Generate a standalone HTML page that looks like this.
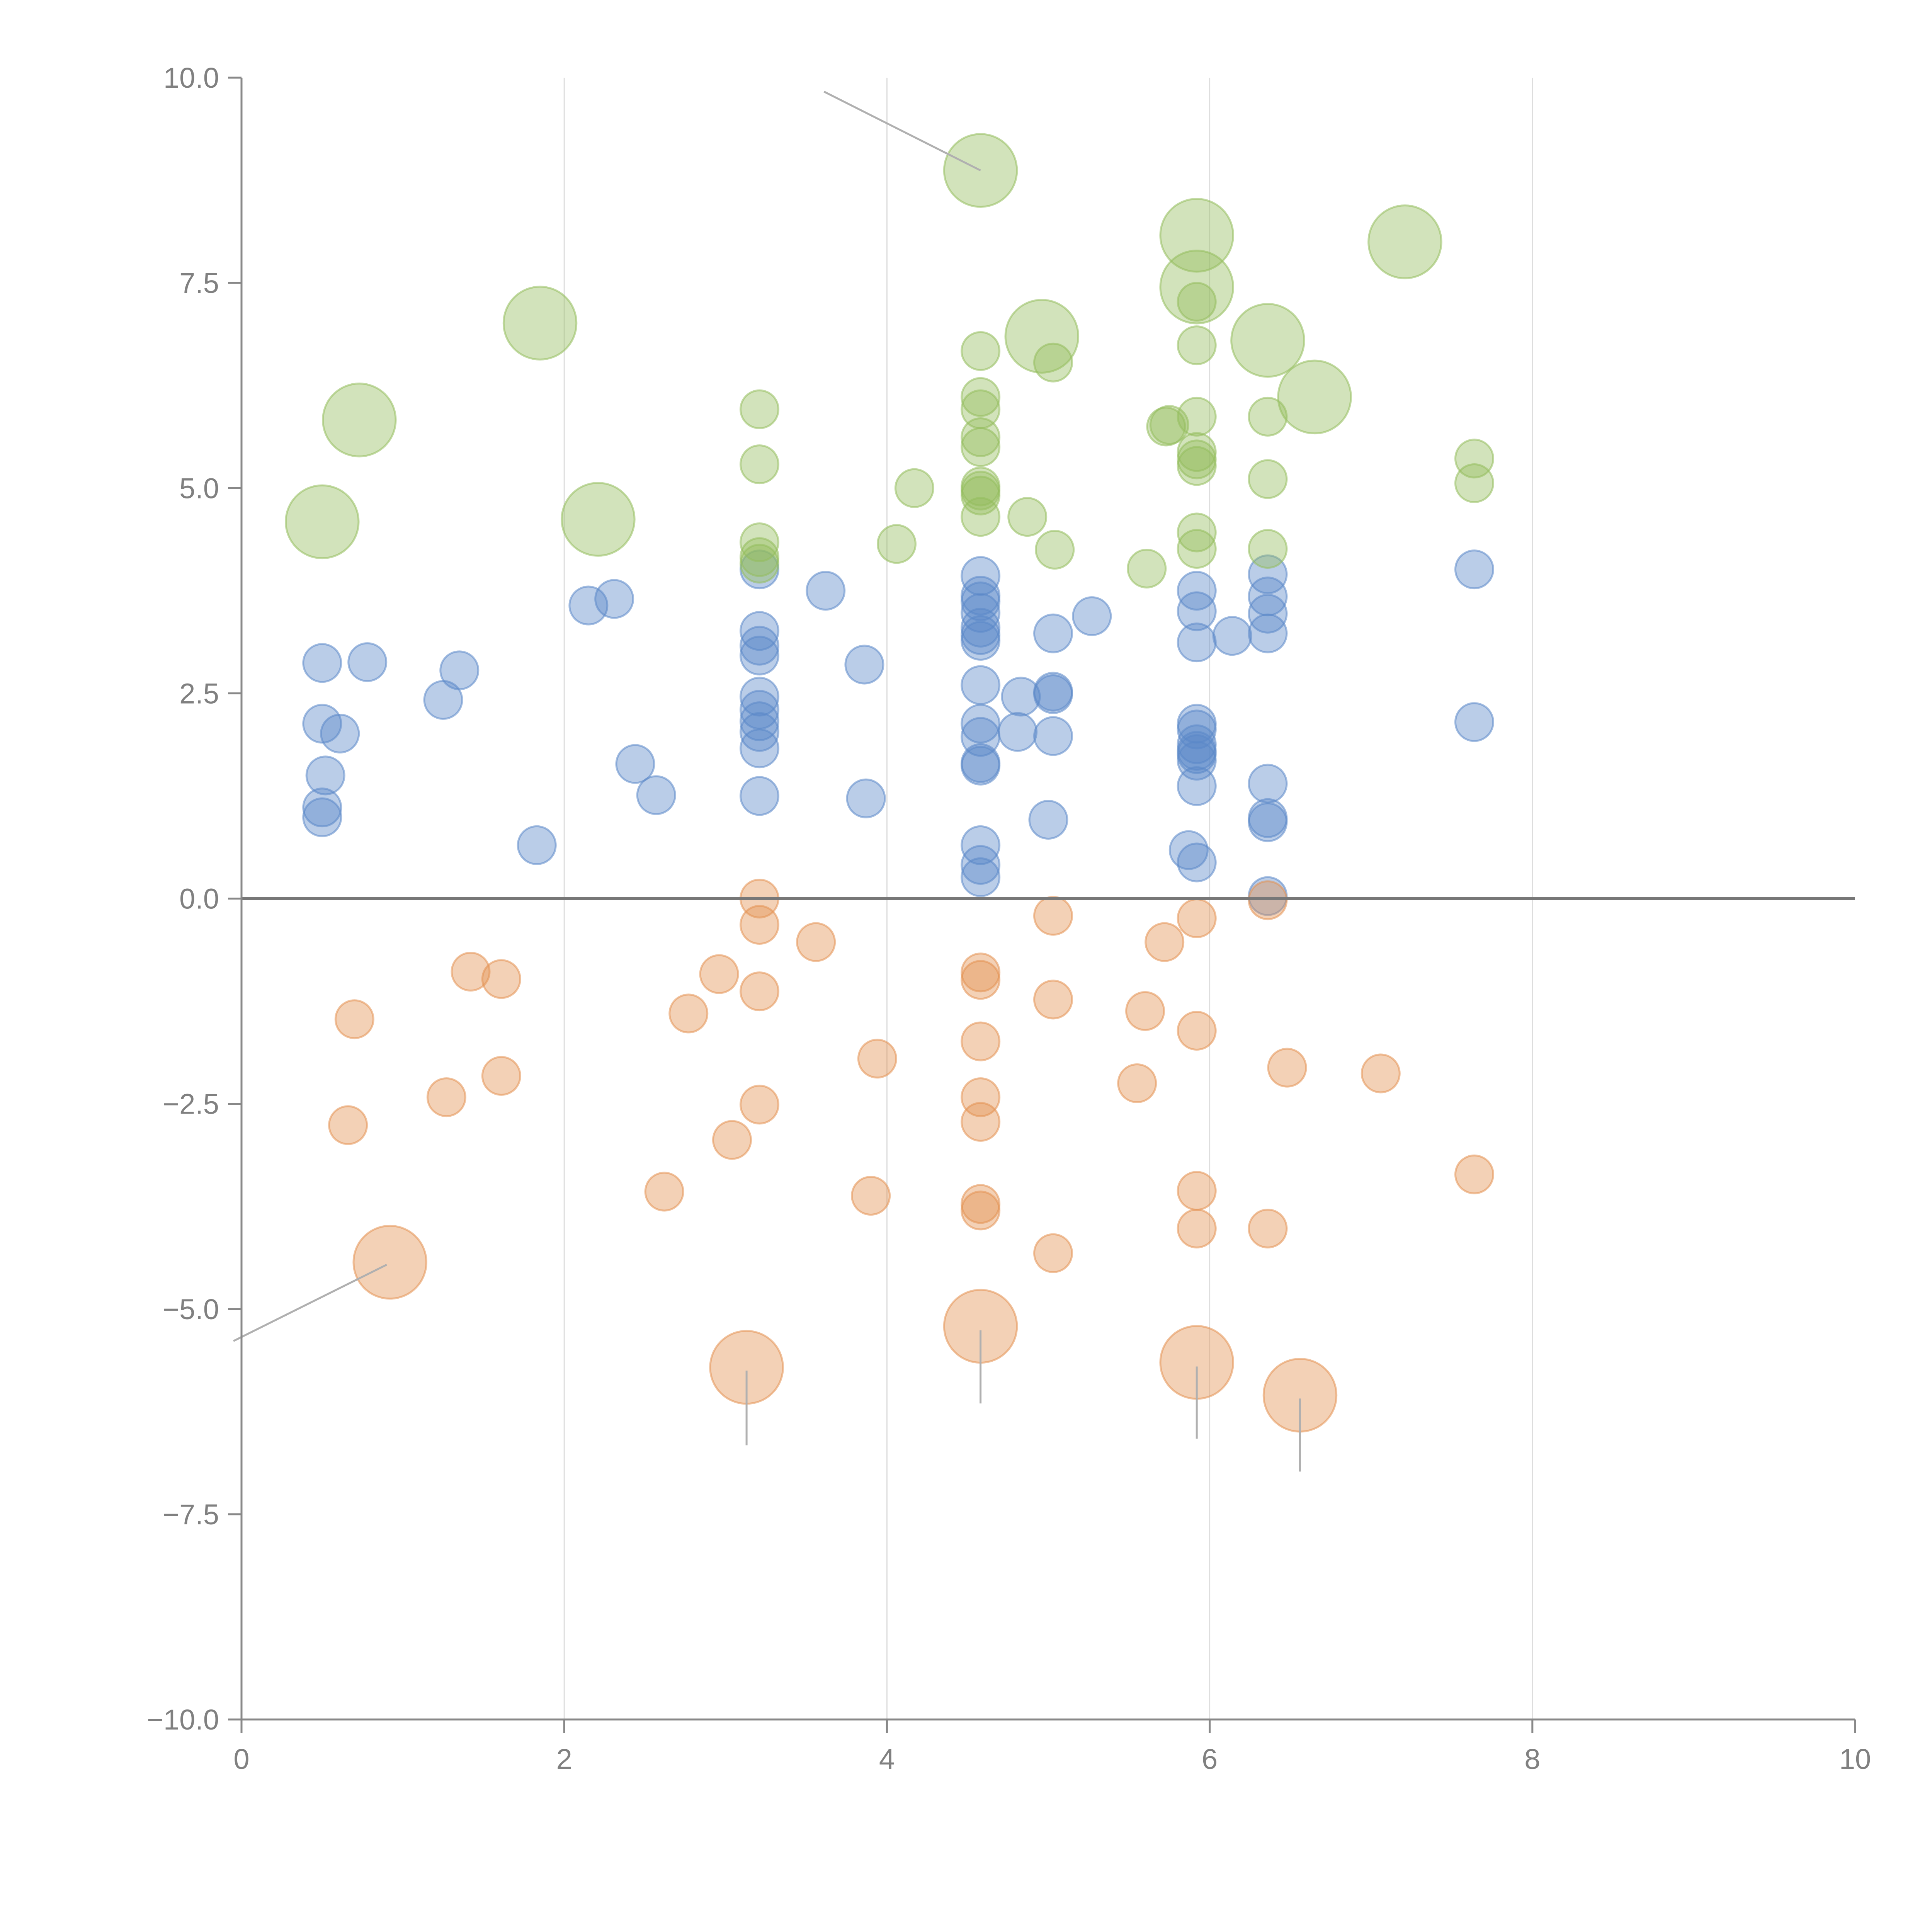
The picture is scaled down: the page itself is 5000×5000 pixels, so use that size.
<!DOCTYPE html>
<html><head><meta charset="utf-8"><style>
html,body{margin:0;padding:0;background:#fff;}
svg{display:block;font-family:"Liberation Sans",Arial,sans-serif;}
</style></head><body>
<svg id="chart" width="5000" height="5000" viewBox="0 0 5000 5000" xmlns="http://www.w3.org/2000/svg">
<rect width="5000" height="5000" fill="#fff"/>
<g id="grid"></g>
<g id="marks"></g>
<g id="axes"></g>
</svg>
<script>
const blueX=[0.50,0.50,0.61,0.78,0.52,0.50,0.50,1.35,1.25,1.83,2.15,2.31,2.44,2.57,3.21,3.21,3.21,3.21,3.21,3.21,3.21,3.21,3.21,3.21,3.62,3.86,3.87,4.58,4.58,4.58,4.58,4.58,4.58,4.58,4.58,4.58,4.58,4.58,4.58,4.58,4.58,4.58,4.81,4.83,5.00,5.03,5.03,5.03,5.03,5.27,5.87,5.92,5.92,5.92,5.92,5.92,5.92,5.92,5.92,5.92,5.92,5.92,6.14,6.36,6.36,6.36,6.36,6.36,6.36,6.36,6.36,7.64,7.64];
const blueY=[2.87,2.13,2.01,2.88,1.50,1.11,0.99,2.78,2.42,0.65,3.57,3.65,1.64,1.26,4.01,3.26,3.08,2.96,2.46,2.30,2.16,2.03,1.83,1.25,3.75,2.85,1.22,3.93,3.69,3.62,3.48,3.30,3.21,3.14,2.60,2.13,1.97,1.65,1.62,0.65,0.41,0.26,2.03,2.46,0.96,3.23,2.52,2.49,1.98,3.44,0.59,0.44,3.75,3.50,3.12,2.13,2.06,1.88,1.80,1.76,1.68,1.37,3.20,3.95,3.68,3.47,3.23,1.40,0.98,0.93,0.03,4.01,2.15];
const greenX=[3.21,3.21,3.21,3.21,3.21,4.06,4.17,4.58,4.58,4.58,4.58,4.58,4.58,4.58,4.58,4.58,4.87,5.03,5.04,5.61,5.73,5.75,5.92,5.92,5.92,5.92,5.92,5.92,5.92,5.92,6.36,6.36,6.36,7.64,7.64,
 0.50,0.73,1.85,2.21,4.58,4.96,5.92,5.92,6.36,6.65,7.21];
const greenY=[5.96,5.29,4.34,4.16,4.08,4.32,5.00,6.67,6.11,5.96,5.62,5.50,5.02,4.97,4.91,4.65,4.65,6.53,4.25,4.02,5.75,5.77,7.27,6.74,5.87,5.44,5.35,5.27,4.46,4.26,5.87,5.11,4.26,5.36,5.06,
 4.59,5.83,7.01,4.62,8.87,6.85,8.08,7.45,6.80,6.11,8.00];
const greenSize=[1,1,1,1,1,1,1,1,1,1,1,1,1,1,1,1,1,1,1,1,1,1,1,1,1,1,1,1,1,1,1,1,1,1,1,
 3.7,3.7,3.7,3.7,3.7,3.7,3.7,3.7,3.7,3.7,3.7];
const orangeX=[0.70,0.66,1.27,1.42,1.61,1.61,2.62,2.77,2.96,3.04,3.21,3.21,3.21,3.21,3.56,3.90,3.94,4.58,4.58,4.58,4.58,4.58,4.58,4.58,5.03,5.03,5.03,5.55,5.60,5.72,5.92,5.92,5.92,5.92,6.36,6.36,6.48,7.06,7.64,
 0.92,3.13,4.58,5.92,6.56];
const orangeY=[-1.47,-2.76,-2.42,-0.89,-0.98,-2.16,-3.57,-1.40,-0.92,-2.94,0,-0.32,-1.13,-2.51,-0.53,-3.62,-1.95,-0.90,-0.99,-1.74,-2.42,-2.72,-3.72,-3.80,-0.21,-1.23,-4.32,-2.25,-1.37,-0.53,-0.24,-1.61,-3.56,-4.02,-0.02,-4.02,-2.06,-2.13,-3.36,
 -4.43,-5.71,-5.21,-5.65,-6.05];
const orangeSize=[1,1,1,1,1,1,1,1,1,1,1,1,1,1,1,1,1,1,1,1,1,1,1,1,1,1,1,1,1,1,1,1,1,1,1,1,1,1,1,
 3.7,3.7,3.7,3.7,3.7];
const xTicks=[0,2,4,6,8,10];
const yTicks=[-10,-7.5,-5,-2.5,0,2.5,5,7.5,10];
const yTickLabels=["\u221210.0","\u22127.5","\u22125.0","\u22122.5","0.0","2.5","5.0","7.5","10.0"];

const X0=625,X1=4801,Y0=4450,Y1=201;
function sx(v){return X0+(v-0)/(10-0)*(X1-X0);}
function sy(v){return Y0-(v+10)/20*(Y0-Y1);}
function rr(s){return 49*Math.sqrt(s);}
const NS="http://www.w3.org/2000/svg";
function mk(tag,attrs,parent){const e=document.createElementNS(NS,tag);for(const k in attrs)e.setAttribute(k,attrs[k]);parent.appendChild(e);return e;}
const grid=document.getElementById('grid'),marks=document.getElementById('marks'),axes=document.getElementById('axes');

xTicks.forEach(t=>{if(t===0||t===10)return;
 const l=mk('line',{x1:sx(t),x2:sx(t),y1:Y1,y2:Y0,stroke:'#dddddd','stroke-width':3},grid);
 
 
});

function series(xs,ys,sizes,fill,name){
 xs.forEach((x,i)=>{
  const c=mk('circle',{cx:sx(x),cy:sy(ys[i]),r:rr(sizes?sizes[i]:1),fill:fill,'fill-opacity':0.42,stroke:fill,'stroke-opacity':0.55,'stroke-width':5},marks);
  
  
 });
}
series(blueX,blueY,null,'#5b89c9','blue');
series(greenX,greenY,greenSize,'#93bd5c','green');
series(orangeX,orangeY,orangeSize,'#e39152','orange');

const leaders=[[3.61,9.83,4.58,8.87],[-0.05,-5.39,0.90,-4.46],[3.13,-5.75,3.13,-6.66],[4.58,-5.26,4.58,-6.15],[5.92,-5.70,5.92,-6.58],[6.56,-6.09,6.56,-6.98]];
leaders.forEach(a=>{
 const l=mk('line',{x1:sx(a[0]),y1:sy(a[1]),x2:sx(a[2]),y2:sy(a[3]),stroke:'#b0b0b0','stroke-width':5},marks);
 
 
});

const z=mk('line',{x1:X0,x2:X1,y1:sy(0),y2:sy(0),stroke:'#777','stroke-width':7},axes);


const ya=mk('line',{x1:X0,x2:X0,y1:Y1,y2:Y0+2,stroke:'#888','stroke-width':5},axes);


const xa=mk('line',{x1:X0,x2:X1,y1:Y0,y2:Y0,stroke:'#888','stroke-width':5},axes);



xTicks.forEach(t=>{
 const tk=mk('line',{x1:sx(t),x2:sx(t),y1:Y0,y2:Y0+35,stroke:'#888','stroke-width':5},axes);
 
 
 const tx=mk('text',{x:sx(t),y:Y0+128,'text-anchor':'middle','font-size':74,fill:'#808080'},axes);
 tx.textContent=String(t);
 
 
});
yTicks.forEach((t,i)=>{
 const tk=mk('line',{x1:X0-35,x2:X0,y1:sy(t),y2:sy(t),stroke:'#888','stroke-width':5},axes);
 
 
 const tx=mk('text',{x:X0-58,y:sy(t)+26,'text-anchor':'end','font-size':74,fill:'#808080'},axes);
 tx.textContent=yTickLabels[i];
 
 
});
</script>
</body></html>
